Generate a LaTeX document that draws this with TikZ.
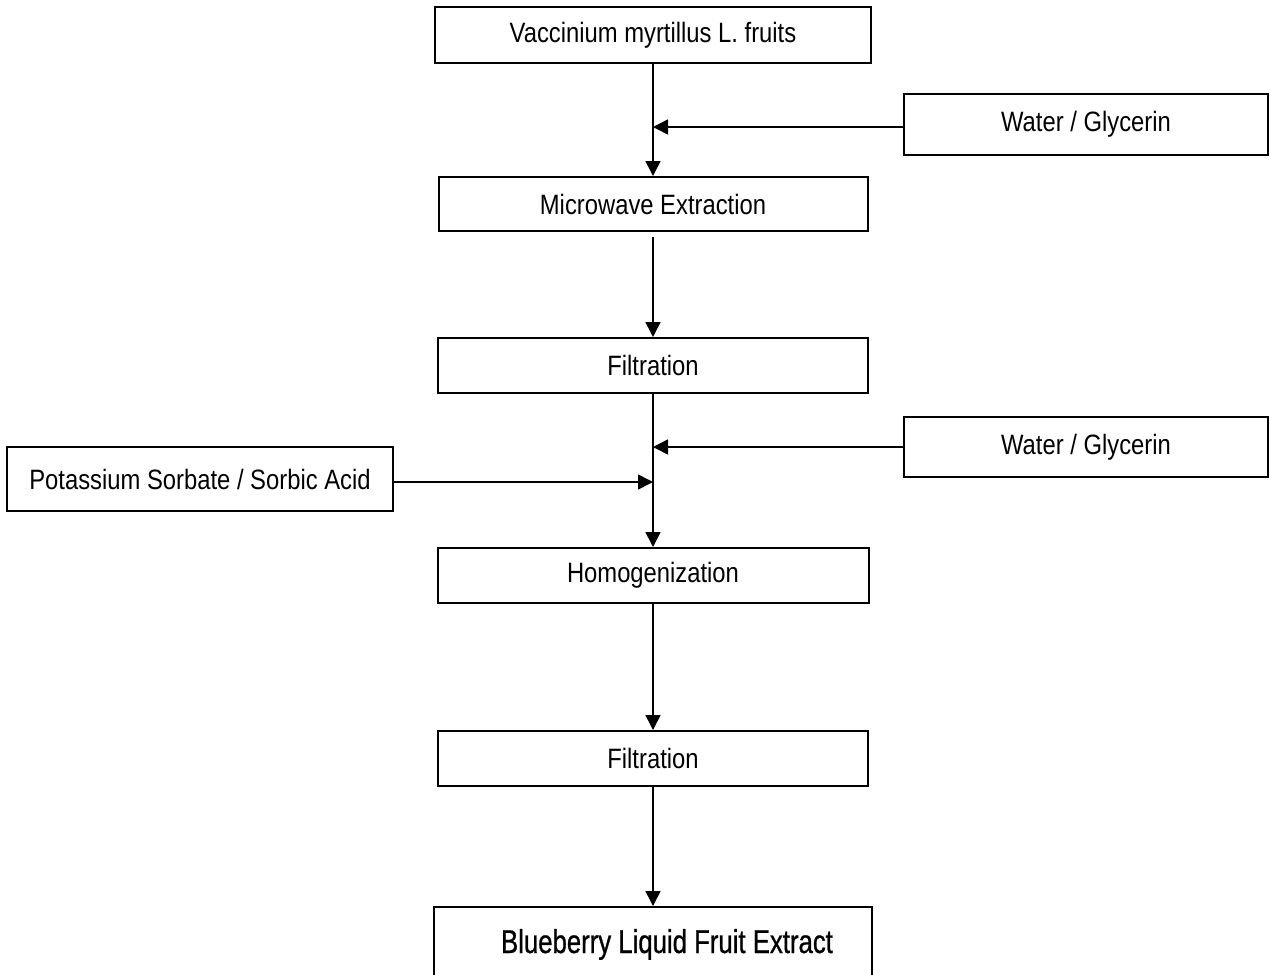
\documentclass[tikz,border=0pt]{standalone}
\usepackage{fontspec}
\setmainfont{Liberation Sans}
\newfontfamily\narrowf[FakeStretch=0.85]{Liberation Sans}
\newfontfamily\bbf[FakeStretch=0.78,FakeBold=0.8]{Liberation Sans}
\usetikzlibrary{arrows.meta}
\begin{document}
\begin{tikzpicture}[x=1pt,y=-1pt,
  stepbox/.style={draw, line width=2pt, inner sep=0pt, align=center,
    font=\narrowf\fontsize{28}{30}\selectfont},
  arr/.style={line width=1.6pt, -{Triangle[length=15pt,width=15pt]}}]
\useasboundingbox (0,0) rectangle (1270,975);
\node[stepbox, minimum width=436pt, minimum height=56pt] (b1) at (653,35) {Vaccinium myrtillus L. fruits};
\node[stepbox, minimum width=364pt, minimum height=61pt] (w1) at (1086,124.5) {Water / Glycerin};
\node[stepbox, minimum width=429pt, minimum height=54pt] (mw) at (653,204) {Microwave Extraction};
\node[stepbox, minimum width=430pt, minimum height=55pt] (f1) at (653,365.5) {Filtration};
\node[stepbox, minimum width=364pt, minimum height=60pt] (w2) at (1086,447) {Water / Glycerin};
\node[stepbox, minimum width=386pt, minimum height=64pt] (ps) at (200,479) {Potassium Sorbate / Sorbic Acid};
\node[stepbox, minimum width=431pt, minimum height=55pt] (hg) at (653,575.5) {Homogenization};
\node[stepbox, minimum width=430pt, minimum height=55pt] (f2) at (653,758.5) {Filtration};
\node[stepbox, anchor=north, minimum width=438pt, text height=46pt, text depth=50pt,
  font=\bbf\fontsize{33}{35}\selectfont] (be) at (653,906) {\hspace*{28pt}Blueberry Liquid Fruit Extract};
\draw[arr] (b1.south) -- (mw.north);
\draw[arr] ([yshift=-2.5pt]w1.west) -- ([yshift=-2.5pt]w1.west -| b1.south);
\draw[arr, shorten <=5pt] (mw.south) -- (f1.north);
\draw[arr] (f1.south) -- (hg.north);
\draw[arr] (w2.west) -- (w2.west -| f1.south);
\draw[arr] ([yshift=-3pt]ps.east) -- ([yshift=-3pt]ps.east -| f1.south);
\draw[arr] (hg.south) -- (f2.north);
\draw[arr] (f2.south) -- (be.north);
\end{tikzpicture}
\end{document}
